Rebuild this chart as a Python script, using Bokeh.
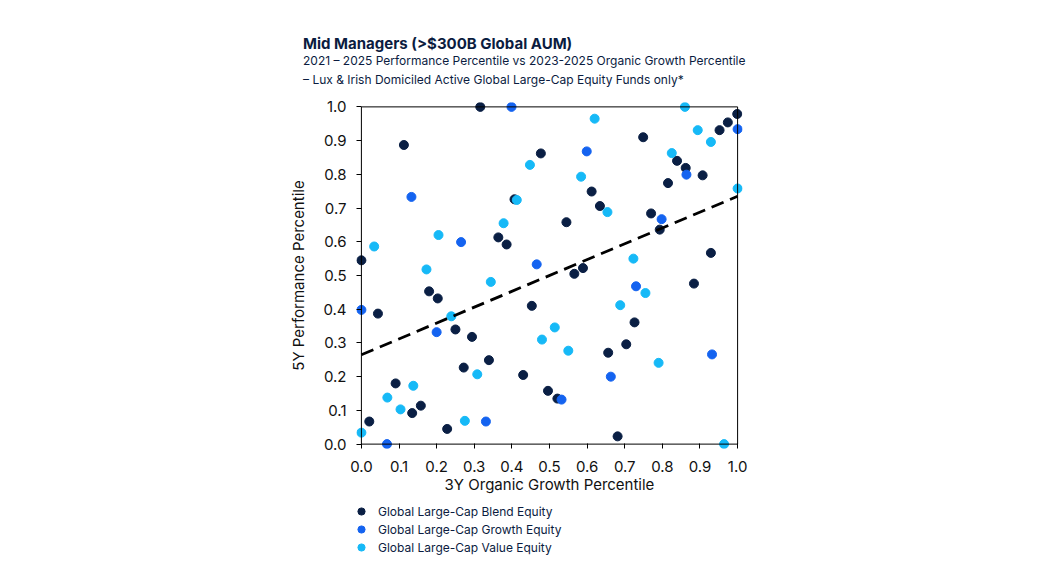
from bokeh.plotting import figure
from bokeh.layouts import column
from bokeh.models import (ColumnDataSource, Legend, LegendItem, Div, BoxAnnotation,
                          FixedTicker, Range1d, PrintfTickFormatter)
from bokeh.embed import file_html
from bokeh.resources import INLINE

# === Data ===
blend_x = [0.316, 0.113, 0.477, 0.407, 0.364, 0.386, 0.000, 0.999, 0.974, 0.952,
           0.749, 0.839, 0.862, 0.907, 0.815, 0.612, 0.634, 0.545, 0.770, 0.793,
           0.929, 0.589, 0.566, 0.180, 0.203, 0.044, 0.453, 0.250, 0.294, 0.339,
           0.272, 0.430, 0.091, 0.496, 0.158, 0.135, 0.021, 0.228, 0.884, 0.726,
           0.704, 0.656, 0.521, 0.681]
blend_y = [1.000, 0.887, 0.862, 0.726, 0.613, 0.592, 0.545, 0.979, 0.954, 0.931,
           0.910, 0.840, 0.819, 0.797, 0.774, 0.749, 0.706, 0.658, 0.684, 0.636,
           0.567, 0.522, 0.505, 0.453, 0.432, 0.387, 0.410, 0.340, 0.318, 0.249,
           0.227, 0.205, 0.180, 0.158, 0.114, 0.092, 0.067, 0.045, 0.476, 0.361,
           0.296, 0.271, 0.135, 0.023]

growth_x = [0.399, 0.133, 0.265, 0.466, 1.000, 0.599, 0.864, 0.798, 0.000, 0.200,
            0.331, 0.068, 0.730, 0.932, 0.663, 0.532]
growth_y = [1.000, 0.733, 0.599, 0.533, 0.934, 0.868, 0.799, 0.667, 0.398, 0.332,
            0.067, 0.000, 0.468, 0.266, 0.200, 0.132]

value_x = [0.448, 0.413, 0.378, 0.205, 0.034, 0.173, 0.860, 0.894, 0.929, 0.620,
           0.825, 0.584, 1.000, 0.654, 0.723, 0.344, 0.239, 0.480, 0.308, 0.138,
           0.069, 0.104, 0.275, 0.000, 0.755, 0.688, 0.514, 0.550, 0.790, 0.964]
value_y = [0.828, 0.724, 0.655, 0.620, 0.586, 0.518, 1.000, 0.931, 0.896, 0.965,
           0.863, 0.793, 0.758, 0.688, 0.550, 0.481, 0.379, 0.310, 0.207, 0.173,
           0.138, 0.103, 0.069, 0.034, 0.448, 0.412, 0.346, 0.277, 0.241, 0.000]

trend_x = [0.0, 1.0]
trend_y = [0.265, 0.735]

ticks = [0.0, 0.1, 0.2, 0.3, 0.4, 0.5, 0.6, 0.7, 0.8, 0.9, 1.0]

series = [
    ("Global Large-Cap Blend Equity", blend_x, blend_y, "#0a1f44"),
    ("Global Large-Cap Growth Equity", growth_x, growth_y, "#1463f0"),
    ("Global Large-Cap Value Equity", value_x, value_y, "#16b9f7"),
]

FONT = "Inter"
NAVY = "#0b1c3f"
PAD = 0.013   # small padding so edge dots are not cut in half

# ---------- Title block ----------
header = Div(
    text=("<div style='font-family:Inter;color:%s;padding-left:303px;padding-top:36px;'>"
          "<div style='font-size:15px;font-weight:bold;line-height:15px;'>"
          "Mid Managers (&gt;$300B Global AUM)</div>"
          "<div style='font-size:12px;line-height:19px;'>"
          "2021 \u2013 2025 Performance Percentile vs 2023-2025 Organic Growth Percentile</div>"
          "<div style='font-size:12px;line-height:19px;'>"
          "\u2013 Lux &amp; Irish Domiciled Active Global Large-Cap Equity Funds only*</div>"
          "</div>") % NAVY,
    width=1024, height=88, margin=(0, 0, 0, 0),
)

# ---------- Main chart ----------
p = figure(
    width=1024, height=412,
    x_range=Range1d(-PAD, 1 + PAD), y_range=Range1d(-PAD, 1 + PAD),
    output_backend="svg", toolbar_location=None,
    min_border_left=356, min_border_right=282,
    min_border_top=14, min_border_bottom=52,
    background_fill_color="white", border_fill_color="white",
)
p.outline_line_color = None
p.grid.grid_line_color = None

for ax in (p.xaxis, p.yaxis):
    ax.ticker = FixedTicker(ticks=ticks)
    ax.formatter = PrintfTickFormatter(format="%.1f")
    ax.minor_tick_line_color = None
    ax.major_tick_in = 5
    ax.major_tick_out = 0
    ax.axis_line_color = None
    ax.major_tick_line_color = "black"
    ax.major_label_text_font = FONT
    ax.major_label_text_font_size = "15px"
    ax.major_label_text_color = "#111111"
    ax.axis_label_text_font = FONT
    ax.axis_label_text_font_size = "15px"
    ax.axis_label_text_font_style = "normal"
    ax.axis_label_text_color = "#111111"

p.xaxis.axis_label = "3Y Organic Growth Percentile"
p.yaxis.axis_label = "5Y Performance Percentile"
p.xaxis.major_label_standoff = 12
p.yaxis.major_label_standoff = 10
p.xaxis.axis_label_standoff = 0
p.yaxis.axis_label_standoff = 12

# frame box at 0..1
p.add_layout(BoxAnnotation(left=0, right=1, bottom=0, top=1, fill_alpha=0,
                           line_color="black", line_alpha=1, line_width=1))

for name, xs, ys, col in series:
    src = ColumnDataSource(dict(x=xs, y=ys))
    p.scatter("x", "y", source=src, size=9, fill_color=col, line_color=col)

p.line(trend_x, trend_y, line_color="black", line_width=2.8, line_dash="13 7")

# ---------- Legend strip (frame is aligned with the chart above) ----------
# same series, but the y range is far away so only the legend shows
lg = figure(
    width=1024, height=70, x_range=Range1d(0, 1), y_range=Range1d(5, 6),
    output_backend="svg", toolbar_location=None,
    x_axis_location=None, y_axis_location=None,
    min_border=0, background_fill_color="white", border_fill_color="white",
)
lg.outline_line_color = None
lg.grid.grid_line_color = None

items = []
for name, xs, ys, col in series:
    r = lg.scatter(x=xs, y=ys, size=8, fill_color=col, line_color=col)
    items.append(LegendItem(label=name, renderers=[r]))

legend = Legend(items=items, location=(-4, 14), orientation="vertical")
legend.border_line_color = None
legend.background_fill_alpha = 0
legend.label_text_font = FONT
legend.label_text_font_size = "12px"
legend.label_text_color = NAVY
legend.glyph_width = 18
legend.glyph_height = 18
legend.spacing = 0
legend.padding = 0
legend.margin = 0
legend.label_standoff = 8
lg.add_layout(legend)

layout = column(header, p, lg, spacing=0)
open("out.html", "w").write(file_html(layout, INLINE))
